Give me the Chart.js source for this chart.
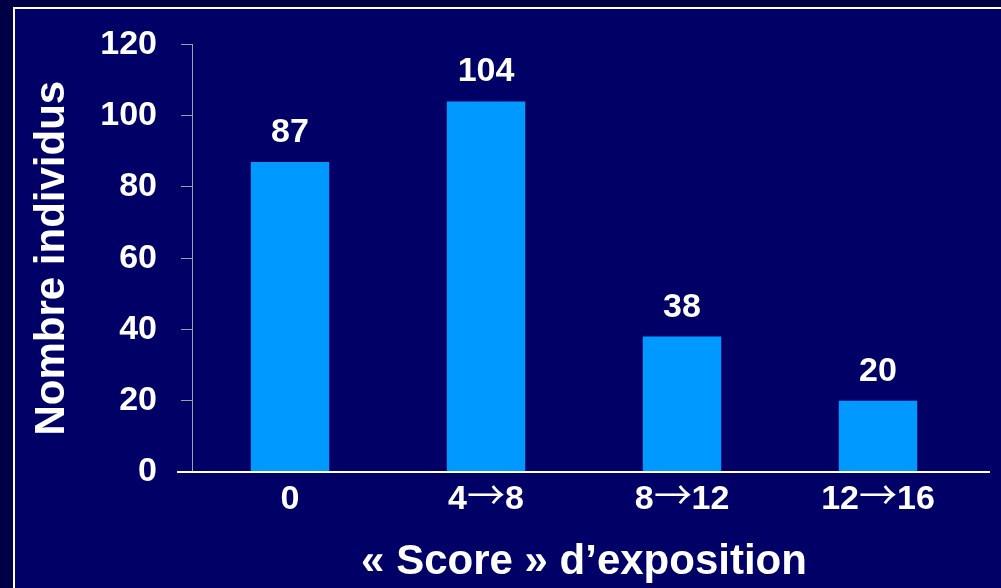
<!DOCTYPE html>
<html>
<head>
<meta charset="utf-8">
<script src="https://cdn.jsdelivr.net/npm/chart.js@4.4.0/dist/chart.umd.min.js"></script>
<style>
    @font-face {
        font-family: 'ArrowGlyph';
        src: local('Noto Sans CJK JP'), local('NotoSansCJKjp-Regular'), local('Noto Sans CJK JP Regular');
        font-weight: 100 900;
        size-adjust: 112%;
        unicode-range: U+2192;
    }
    html, body { margin: 0; padding: 0; }
    body { width: 1001px; height: 588px; background: #000044; overflow: hidden; position: relative; }
    #frame {
        position: absolute; left: 13px; top: 7px; right: -10px; bottom: -10px;
        background: #000066;
        border-top: 2px solid #ffffff;
        border-left: 2px solid #ffffff;
    }
    #wrap { position: absolute; left: 0; top: 0; width: 1001px; height: 588px; }
</style>
</head>
<body>
<div id="frame"></div>
<div id="wrap"><canvas id="scoreChart"></canvas></div>
<script>
'use strict'

const categories = ['0', '4\u21928', '8\u219212', '12\u219216'];
const counts = [87, 104, 38, 20];
const yMin = 0;
const yMax = 120;
const yStep = 20;

const fontFamily = '"Liberation Sans", Arial, sans-serif';
const tickFamily = 'ArrowGlyph, "Liberation Sans", Arial, sans-serif';

// value above each bar
const valueLabels = {
    id: 'valueLabels',
    afterDatasetsDraw(chart) {
        const ctx = chart.ctx;
        const meta = chart.getDatasetMeta(0);
        ctx.save();
        ctx.fillStyle = '#ffffff';
        ctx.font = 'bold 34px ' + fontFamily;
        ctx.textAlign = 'center';
        ctx.textBaseline = 'alphabetic';
        meta.data.forEach((bar, i) => {
            ctx.fillText(String(counts[i]), bar.x, bar.y - 20);
        });
        ctx.restore();
    }
};

// white baseline, a bit longer than the plot area like in the slide
const baseLine = {
    id: 'baseLine',
    afterDraw(chart) {
        const ctx = chart.ctx;
        const y = chart.scales.y.getPixelForValue(0);
        ctx.save();
        ctx.strokeStyle = '#ffffff';
        ctx.lineWidth = 2;
        ctx.beginPath();
        ctx.moveTo(chart.chartArea.left - 15, y);
        ctx.lineTo(chart.chartArea.right + 14, y);
        ctx.stroke();
        ctx.restore();
    }
};

function drawChart() {
    new Chart(document.getElementById('scoreChart'), {
        type: 'bar',
        data: {
            labels: categories,
            datasets: [{
                data: counts,
                backgroundColor: '#0099ff',
                borderWidth: 0,
                barPercentage: 0.4,
                categoryPercentage: 1.0
            }]
        },
        options: {
            responsive: true,
            maintainAspectRatio: false,
            animation: false,
            layout: { padding: { top: 44, right: 25, left: 0, bottom: 0 } },
            plugins: {
                legend: { display: false },
                tooltip: { enabled: false }
            },
            scales: {
                x: {
                    grid: { display: false, drawTicks: false },
                    border: { display: false },
                    ticks: {
                        color: '#ffffff',
                        padding: 7,
                        font: { family: tickFamily, size: 34, weight: 'bold' }
                    },
                    title: {
                        display: true,
                        text: '\u00ab Score \u00bb d\u2019exposition',
                        color: '#ffffff',
                        padding: { top: 0, bottom: 0 },
                        font: { family: fontFamily, size: 42, weight: 'bold', lineHeight: 1.2 }
                    },
                    afterFit(scale) { scale.height = 116; }
                },
                y: {
                    min: yMin,
                    max: yMax,
                    grid: {
                        drawOnChartArea: false,
                        drawTicks: true,
                        tickLength: 11,
                        color: '#a0a0a0',
                        lineWidth: 1
                    },
                    border: { display: true, color: '#a0a0a0', width: 1 },
                    ticks: {
                        stepSize: yStep,
                        color: '#ffffff',
                        padding: 24,
                        font: { family: fontFamily, size: 34, weight: 'bold' }
                    },
                    title: {
                        display: true,
                        text: 'Nombre individus',
                        color: '#ffffff',
                        padding: { top: 27, bottom: 0 },
                        font: { family: fontFamily, size: 42, weight: 'bold', lineHeight: 1.2 }
                    },
                    afterFit(scale) { scale.width = 192; }
                }
            }
        },
        plugins: [valueLabels, baseLine]
    });
}

document.fonts.load('bold 34px ArrowGlyph', '\u2192').then(drawChart, drawChart);
</script>
</body>
</html>
